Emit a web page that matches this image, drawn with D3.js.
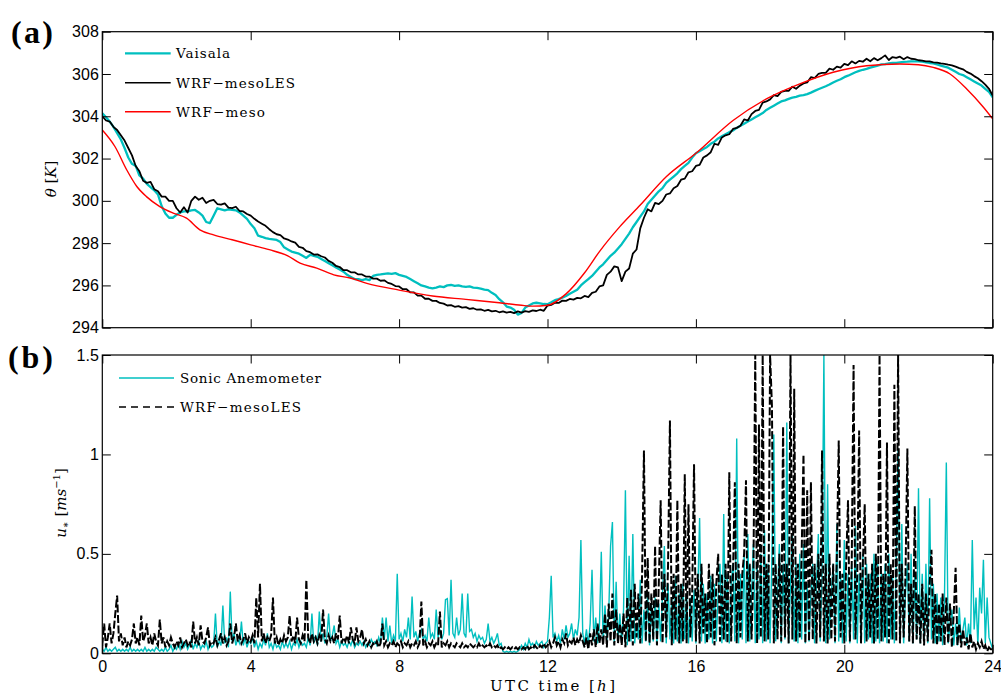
<!DOCTYPE html>
<html><head><meta charset="utf-8">
<script src="https://cdn.jsdelivr.net/npm/d3@7"></script>
<style>
html,body{margin:0;padding:0;background:#fff;}
svg{display:block;}
.tick text{font-family:"Liberation Sans",Arial,sans-serif;font-size:16px;fill:#000;}
.ser{font-family:"DejaVu Serif","Liberation Serif",serif;fill:#000;}
</style></head>
<body>
<svg id="c" width="1001" height="696"></svg>
<script>
// ---------- data ----------
const xTicks = [0, 4, 8, 12, 16, 20, 24];
const thetaTicks = [294, 296, 298, 300, 302, 304, 306, 308];
const ustarTicks = [0, 0.5, 1, 1.5];
const ustarTickLabels = ["0", "0.5", "1", "1.5"];

// Vaisala potential temperature, every 0.1 h (0 .. 24 h)
const thetaVaisala = [
304.14,303.95,303.75,303.5,303.2,302.9,302.5,302.05,301.75,301.65,
301.2,301.05,300.8,300.65,300.5,300.3,299.75,299.4,299.2,299.2,
299.34,299.45,299.5,299.5,299.55,299.57,299.45,299.3,299.0,298.95,
299.3,299.65,299.6,299.55,299.6,299.57,299.55,299.45,299.3,299.15,
298.9,298.7,298.35,298.3,298.24,298.2,298.18,298.15,298.05,297.8,
297.7,297.6,297.55,297.5,297.4,297.3,297.45,297.4,297.35,297.25,
297.15,297.05,296.95,296.85,296.75,296.65,296.5,296.4,296.3,296.3,
296.25,296.3,296.25,296.45,296.5,296.52,296.55,296.57,296.55,296.58,
296.5,296.45,296.4,296.3,296.2,296.1,296.0,295.95,295.9,295.86,
295.9,295.95,295.92,296.0,296.02,295.98,296.0,295.95,295.93,295.95,
295.9,295.88,295.85,295.8,295.78,295.65,295.55,295.35,295.2,295.0,
294.95,294.85,294.62,294.7,294.95,295.05,295.15,295.18,295.15,295.12,
295.11,295.2,295.3,295.35,295.42,295.5,295.6,295.7,295.8,296.0,
296.15,296.3,296.45,296.65,296.85,297.0,297.2,297.4,297.55,297.75,
297.95,298.2,298.45,298.75,299.0,299.25,299.5,299.85,300.05,300.25,
300.45,300.6,300.85,301.0,301.15,301.3,301.5,301.65,301.8,302.05,
302.25,302.35,302.45,302.55,302.7,302.8,302.95,303.05,303.15,303.25,
303.33,303.45,303.55,303.65,303.75,303.85,303.95,304.05,304.15,304.3,
304.4,304.5,304.6,304.7,304.75,304.82,304.88,304.92,304.98,305.0,
305.05,305.12,305.2,305.28,305.35,305.42,305.5,305.6,305.68,305.75,
305.85,305.92,306.0,306.08,306.15,306.2,306.24,306.3,306.35,306.4,
306.45,306.47,306.5,306.52,306.53,306.55,306.57,306.58,306.6,306.6,
306.6,306.58,306.55,306.52,306.5,306.45,306.4,306.35,306.3,306.2,
306.1,306.0,305.95,305.85,305.75,305.65,305.55,305.45,305.3,305.15,
304.9];

// WRF-mesoLES potential temperature, every 0.1 h
const thetaMesoLES = [
304.0,303.8,303.75,303.5,303.35,303.1,302.85,302.5,302.15,301.65,
301.4,300.95,300.85,300.9,300.55,300.45,300.2,300.2,300.0,300.0,
299.65,299.45,299.7,299.45,300.0,300.2,300.05,300.15,299.9,300.0,
300.05,299.85,299.82,299.88,299.68,299.66,299.72,299.52,299.5,299.38,
299.3,299.15,299.02,298.92,298.82,298.66,298.52,298.42,298.38,298.22,
298.17,298.08,298.02,297.82,297.78,297.62,297.57,297.46,297.47,297.38,
297.32,297.16,297.07,296.92,296.87,296.72,296.72,296.62,296.62,296.52,
296.52,296.42,296.42,296.32,296.32,296.22,296.24,296.12,296.07,295.97,
295.95,295.82,295.82,295.67,295.67,295.52,295.52,295.37,295.37,295.27,
295.27,295.17,295.14,295.05,295.07,294.99,295.02,294.95,294.97,294.89,
294.92,294.85,294.87,294.8,294.84,294.77,294.8,294.73,294.77,294.71,
294.75,294.69,294.77,294.71,294.78,294.75,294.82,294.79,294.85,294.8,
295.05,295.08,295.18,295.17,295.28,295.27,295.36,295.33,295.41,295.39,
295.5,295.45,295.65,295.7,295.95,296.0,296.5,296.65,296.9,296.85,
296.2,296.65,296.8,297.5,297.7,298.7,299.2,299.6,299.5,299.9,
299.85,300.0,300.3,300.35,300.6,300.7,301.0,301.05,301.35,301.4,
301.65,301.7,302.05,302.15,302.3,302.7,302.65,303.0,303.1,303.15,
303.4,303.45,303.55,303.85,303.8,304.1,304.25,304.3,304.65,304.7,
304.8,305.0,304.95,305.15,305.2,305.2,305.4,305.3,305.45,305.55,
305.6,305.85,305.8,306.0,306.05,306.05,306.25,306.2,306.35,306.3,
306.48,306.42,306.6,306.5,306.62,306.58,306.72,306.6,306.75,306.65,
306.75,306.88,306.66,306.8,306.76,306.82,306.7,306.8,306.72,306.7,
306.65,306.63,306.6,306.6,306.55,306.54,306.5,306.48,306.44,306.41,
306.35,306.28,306.22,306.1,306.02,305.9,305.8,305.66,305.5,305.3,
304.98];

// WRF-meso (smooth) potential temperature
const mesoHours = [0,0.34,0.66,0.93,1.19,1.55,1.91,2.27,2.63,3.0,3.5,4.0,4.5,5.0,5.33,5.78,6.24,6.68,7.13,8.0,8.9,9.8,10.7,11.3,11.6,12.0,12.5,13.0,13.4,13.95,14.5,15.2,16.0,17.0,17.9,18.8,19.7,20.6,21.5,22.0,22.4,22.85,23.3,23.75,24.0];
const thetaMeso = [303.35,302.57,301.46,300.68,300.2,299.73,299.42,299.18,298.63,298.39,298.16,297.92,297.69,297.4,297.05,296.82,296.5,296.35,296.1,295.78,295.5,295.34,295.18,295.06,295.02,295.06,295.6,296.6,297.6,298.78,299.8,301.14,302.25,303.8,304.82,305.53,306.08,306.39,306.47,306.44,306.31,306.0,305.29,304.43,303.88];

// friction velocity, every 0.05 h
const ustarSonic = [
0.02,0.01,0.03,0.01,0.02,0.01,0.02,0.03,0.01,0.02,0.01,0.02,0.01,0.02,0.01,0.03,0.01,0.02,0.01,0.02,
0.01,0.02,0.01,0.03,0.01,0.02,0.01,0.02,0.01,0.03,0.02,0.01,0.02,0.01,0.03,0.01,0.02,0.04,0.01,0.03,
0.02,0.05,0.02,0.06,0.03,0.05,0.02,0.04,0.07,0.02,0.05,0.03,0.06,0.02,0.04,0.03,0.06,0.02,0.05,0.03,
0.04,0.2,0.03,0.06,0.04,0.24,0.05,0.08,0.03,0.31,0.06,0.1,0.04,0.07,0.05,0.16,0.04,0.08,0.03,0.06,
0.05,0.08,0.03,0.06,0.02,0.05,0.03,0.07,0.04,0.1,0.03,0.05,0.02,0.06,0.03,0.04,0.02,0.06,0.03,0.05,
0.03,0.06,0.02,0.05,0.04,0.07,0.03,0.06,0.04,0.05,0.03,0.08,0.04,0.2,0.05,0.09,0.04,0.21,0.06,0.1,
0.05,0.08,0.2,0.06,0.09,0.14,0.05,0.07,0.03,0.06,0.04,0.05,0.03,0.06,0.04,0.07,0.03,0.05,0.04,0.06,
0.04,0.06,0.03,0.05,0.04,0.07,0.05,0.06,0.04,0.08,0.05,0.18,0.07,0.18,0.06,0.14,0.05,0.09,0.06,0.4,
0.07,0.1,0.06,0.12,0.08,0.18,0.07,0.285,0.08,0.11,0.06,0.1,0.12,0.07,0.09,0.06,0.18,0.08,0.1,0.07,
0.22,0.08,0.12,0.07,0.1,0.27,0.275,0.09,0.37,0.1,0.08,0.18,0.09,0.12,0.3,0.1,0.08,0.3,0.11,0.12,
0.08,0.1,0.06,0.09,0.07,0.08,0.05,0.07,0.15,0.06,0.08,0.05,0.07,0.1,0.04,0.05,0.01,0.005,0.01,0.005,
0.01,0.005,0.01,0.005,0.01,0.02,0.04,0.02,0.05,0.03,0.07,0.04,0.05,0.03,0.06,0.04,0.05,0.06,0.03,0.05,
0.06,0.18,0.39,0.08,0.1,0.06,0.09,0.05,0.12,0.07,0.14,0.08,0.1,0.15,0.07,0.12,0.09,0.18,0.57,0.1,
0.05,0.12,0.04,0.15,0.42,0.06,0.18,0.05,0.14,0.51,0.05,0.24,0.06,0.2,0.54,0.66,0.05,0.36,0.06,0.2,
0.05,0.22,0.82,0.04,0.49,0.06,0.6,0.05,0.15,0.07,0.37,0.05,0.22,0.06,0.3,0.04,0.25,0.06,0.28,0.05,
0.25,0.06,0.3,0.54,0.05,0.35,0.07,0.28,0.05,0.39,0.06,0.3,0.05,0.35,0.07,0.3,0.05,0.28,0.06,0.32,
0.05,0.3,0.68,0.06,0.35,0.05,0.3,0.07,0.39,0.05,0.35,0.06,0.3,0.45,0.05,0.7,0.06,0.4,0.05,0.35,
0.45,0.06,1.08,0.05,0.4,0.07,0.5,0.05,0.6,0.06,0.3,0.55,0.05,0.45,0.07,0.5,0.05,0.62,0.06,0.45,
0.05,0.5,1.1,0.06,0.3,0.55,0.05,0.45,0.07,1.16,0.05,0.35,0.6,0.06,0.45,0.05,0.5,0.07,0.55,0.05,
0.35,0.06,0.3,0.45,0.05,0.35,0.6,0.06,0.4,1.5,0.05,0.85,0.07,0.3,0.45,0.05,0.65,0.06,0.4,0.05,
0.57,0.06,0.4,0.05,0.45,0.07,0.64,0.05,0.4,0.06,0.5,0.05,0.45,0.07,0.4,0.05,0.5,0.06,0.45,0.05,
0.4,0.06,0.45,0.05,0.5,0.07,0.4,0.05,0.45,1.03,0.06,0.65,0.05,0.3,0.45,0.06,0.5,0.05,0.4,0.07,
0.83,0.05,0.4,0.06,0.45,0.05,0.78,0.07,0.35,0.05,0.3,0.06,0.28,0.04,0.28,0.96,0.05,0.15,0.22,0.04,
0.15,0.04,0.23,0.05,0.12,0.18,0.04,0.15,0.05,0.57,0.12,0.28,0.04,0.33,0.2,0.47,0.05,0.28,0.08,0.05,
0.02];

const ustarMesoLES = [
0.04,0.15,0.03,0.08,0.15,0.05,0.1,0.2,0.29,0.06,0.1,0.04,0.08,0.03,0.06,0.04,0.07,0.15,0.05,0.08,
0.04,0.19,0.06,0.09,0.15,0.05,0.08,0.04,0.1,0.06,0.04,0.17,0.05,0.08,0.03,0.06,0.04,0.08,0.05,0.03,
0.06,0.04,0.08,0.03,0.05,0.07,0.04,0.06,0.03,0.16,0.05,0.08,0.04,0.14,0.06,0.05,0.08,0.13,0.04,0.06,
0.05,0.08,0.04,0.07,0.1,0.05,0.08,0.04,0.06,0.15,0.05,0.08,0.15,0.06,0.09,0.05,0.07,0.1,0.05,0.08,
0.06,0.09,0.05,0.28,0.08,0.35,0.06,0.1,0.05,0.08,0.06,0.09,0.28,0.05,0.08,0.04,0.07,0.05,0.09,0.06,
0.08,0.19,0.06,0.09,0.05,0.18,0.07,0.05,0.09,0.06,0.37,0.08,0.05,0.1,0.06,0.08,0.05,0.09,0.06,0.22,
0.07,0.05,0.09,0.06,0.08,0.05,0.1,0.07,0.19,0.05,0.08,0.06,0.09,0.05,0.13,0.07,0.05,0.13,0.06,0.08,
0.12,0.05,0.07,0.04,0.06,0.03,0.05,0.04,0.06,0.03,0.05,0.15,0.04,0.06,0.03,0.05,0.04,0.06,0.03,0.05,
0.04,0.06,0.03,0.05,0.04,0.06,0.03,0.05,0.04,0.06,0.03,0.05,0.26,0.04,0.06,0.03,0.05,0.04,0.06,0.03,
0.05,0.04,0.21,0.03,0.05,0.04,0.06,0.03,0.05,0.04,0.03,0.05,0.04,0.03,0.05,0.03,0.04,0.03,0.05,0.04,
0.03,0.04,0.03,0.05,0.03,0.04,0.03,0.04,0.03,0.05,0.03,0.04,0.03,0.04,0.02,0.03,0.02,0.03,0.02,0.03,
0.02,0.03,0.02,0.03,0.02,0.03,0.02,0.03,0.02,0.04,0.02,0.03,0.02,0.04,0.03,0.02,0.04,0.03,0.05,0.03,
0.04,0.06,0.03,0.05,0.08,0.04,0.06,0.03,0.07,0.05,0.1,0.04,0.06,0.05,0.08,0.04,0.07,0.05,0.09,0.06,
0.03,0.08,0.02,0.1,0.04,0.12,0.03,0.15,0.05,0.12,0.04,0.2,0.03,0.25,0.06,0.3,0.04,0.22,0.05,0.15,
0.04,0.2,0.03,0.28,0.06,0.32,0.04,0.35,0.08,0.3,0.05,0.4,1.02,0.06,0.48,0.05,0.3,0.07,0.54,0.04,
0.35,0.77,0.05,0.4,0.08,0.45,1.17,0.04,0.4,0.07,0.77,0.05,0.35,0.06,0.9,0.05,0.75,0.08,0.3,0.95,
0.06,0.4,0.05,0.45,0.1,0.3,0.05,0.45,0.08,0.4,0.04,0.35,0.5,0.06,0.4,0.07,0.45,0.05,0.91,0.06,
0.4,0.86,0.05,0.45,0.08,0.4,0.5,0.87,0.06,0.45,0.07,0.4,1.5,0.05,1.15,0.08,1.5,0.06,0.45,0.07,
1.5,1.24,0.05,0.45,0.07,0.5,0.06,1.14,0.08,0.45,0.05,1.5,0.07,1.33,0.06,0.45,0.08,0.5,1.0,0.05,
0.82,0.06,0.86,0.07,0.45,0.05,0.5,0.08,1.02,0.06,0.45,0.05,0.5,0.07,0.45,0.06,0.5,1.07,0.08,0.4,
0.05,0.45,0.77,0.06,0.45,1.45,0.07,0.4,1.12,0.05,0.45,0.75,0.06,0.4,0.08,0.45,0.05,0.5,0.07,1.5,
0.06,0.4,0.08,1.06,0.05,0.45,0.07,1.35,0.06,1.5,0.05,0.45,0.08,0.4,1.03,0.06,0.35,0.05,0.74,0.07,
0.3,0.05,0.35,0.04,0.3,0.06,0.35,0.52,0.05,0.3,0.04,0.25,0.06,0.3,0.04,0.28,0.05,0.25,0.03,0.2,
0.43,0.04,0.15,0.03,0.12,0.04,0.08,0.02,0.1,0.03,0.06,0.02,0.05,0.03,0.06,0.02,0.04,0.01,0.03,0.02,
0.02];

const legendTop = ["Vaisala", "WRF\u2212mesoLES", "WRF\u2212meso"];
const legendBottom = ["Sonic Anemometer", "WRF\u2212mesoLES"];

// ---------- drawing ----------
const CYAN = "#00bfbf", RED = "#ff0000", BLACK = "#000000";
const svg = d3.select("#c");
const L = 102.3, R = 992.7;
const topP = {t: 31.7, b: 327.7}, botP = {t: 355, b: 653.3};

const x = d3.scaleLinear().domain([0, 24]).range([L, R]);
const yT = d3.scaleLinear().domain([294, 308]).range([topP.b, topP.t]);
const yB = d3.scaleLinear().domain([0, 1.5]).range([botP.b, botP.t]);

const defs = svg.append("defs");
[["clipTop", topP], ["clipBot", botP]].forEach(([id, p]) => {
  defs.append("clipPath").attr("id", id).append("rect")
    .attr("x", L).attr("y", p.t - 1).attr("width", R - L).attr("height", p.b - p.t + 1);
});

function series(arr) {
  const step = 24 / (arr.length - 1);
  return arr.map((v, i) => [i * step, v]);
}

const TL = 8.5;
function axes(y, p, ticks, fmt, showX) {
  const g = svg.append("g");
  g.append("g").attr("transform", `translate(${L},0)`)
    .call(d3.axisLeft(y).tickValues(ticks).tickFormat(fmt).tickSizeInner(-TL).tickSizeOuter(0).tickPadding(3.5));
  g.append("g").attr("transform", `translate(${R},0)`)
    .call(d3.axisRight(y).tickValues(ticks).tickFormat("").tickSizeInner(-TL).tickSizeOuter(0));
  g.append("g").attr("transform", `translate(0,${p.b})`)
    .call(d3.axisBottom(x).tickValues(xTicks).tickFormat(showX ? d3.format("d") : "").tickSizeInner(-TL).tickSizeOuter(0).tickPadding(7));
  g.append("g").attr("transform", `translate(0,${p.t})`)
    .call(d3.axisTop(x).tickValues(xTicks).tickFormat("").tickSizeInner(-TL).tickSizeOuter(0));
  g.selectAll(".domain").remove();
  g.selectAll(".tick line").attr("stroke", "#000").attr("stroke-width", 1);
  svg.append("rect").attr("x", L).attr("y", p.t).attr("width", R - L).attr("height", p.b - p.t)
    .attr("fill", "none").attr("stroke", "#000").attr("stroke-width", 1.2);
}

// top panel lines
const lineT = d3.line().x(d => x(d[0])).y(d => yT(d[1]));
const gT = svg.append("g").attr("clip-path", "url(#clipTop)");
gT.append("path").datum(series(thetaVaisala)).attr("d", lineT)
  .attr("fill", "none").attr("stroke", CYAN).attr("stroke-width", 2.3).attr("stroke-linejoin", "round");
gT.append("path").datum(series(thetaMesoLES)).attr("d", lineT)
  .attr("fill", "none").attr("stroke", BLACK).attr("stroke-width", 1.8).attr("stroke-linejoin", "round");
gT.append("path").datum(mesoHours.map((h, i) => [h, thetaMeso[i]]))
  .attr("d", d3.line().x(d => x(d[0])).y(d => yT(d[1])).curve(d3.curveMonotoneX))
  .attr("fill", "none").attr("stroke", RED).attr("stroke-width", 1.4);

// bottom panel lines
const lineB = d3.line().x(d => x(d[0])).y(d => yB(d[1]));
const gB = svg.append("g").attr("clip-path", "url(#clipBot)");
gB.append("path").datum(series(ustarSonic)).attr("d", lineB)
  .attr("fill", "none").attr("stroke", CYAN).attr("stroke-width", 1.4);
gB.append("path").datum(series(ustarMesoLES)).attr("d", lineB)
  .attr("fill", "none").attr("stroke", BLACK).attr("stroke-width", 2).attr("stroke-dasharray", "8,2.5");

axes(yT, topP, thetaTicks, d3.format("d"), false);
axes(yB, botP, ustarTicks, (d, i) => ustarTickLabels[i], true);

// legends
const legTop = [{c: CYAN, w: 2.3, dash: null, y: 53.3, len: 54},
                {c: BLACK, w: 1.5, dash: null, y: 82.7, len: 119},
                {c: RED, w: 1.4, dash: null, y: 111.7, len: 89}];
legTop.forEach((s, i) => {
  svg.append("line").attr("x1", 125).attr("x2", 170.7).attr("y1", s.y).attr("y2", s.y)
    .attr("stroke", s.c).attr("stroke-width", s.w);
  svg.append("text").attr("class", "ser").attr("x", 176).attr("y", s.y + 5)
    .attr("font-size", 13.5).attr("textLength", s.len).attr("lengthAdjust", "spacing")
    .text(legendTop[i]);
});
const legBot = [{c: CYAN, w: 1.6, dash: null, y: 378, len: 141},
                {c: BLACK, w: 1.6, dash: "7,5", y: 407, len: 121}];
legBot.forEach((s, i) => {
  svg.append("line").attr("x1", 119).attr("x2", 174).attr("y1", s.y).attr("y2", s.y)
    .attr("stroke", s.c).attr("stroke-width", s.w).attr("stroke-dasharray", s.dash);
  svg.append("text").attr("class", "ser").attr("x", 180).attr("y", s.y + 5)
    .attr("font-size", 13.5).attr("textLength", s.len).attr("lengthAdjust", "spacing")
    .text(legendBottom[i]);
});

// panel labels
svg.append("text").attr("x", 11).attr("y", 42.5).attr("font-family", "Liberation Serif, Times New Roman, serif")
  .attr("font-weight", "bold").attr("font-size", 32).attr("textLength", 42).text("(a)");
svg.append("text").attr("x", 8).attr("y", 368).attr("font-family", "Liberation Serif, Times New Roman, serif")
  .attr("font-weight", "bold").attr("font-size", 32).attr("textLength", 45).text("(b)");

// axis titles
const yl1 = svg.append("text").attr("class", "ser").attr("font-size", 15)
  .attr("text-anchor", "middle").attr("transform", "translate(56,179) rotate(-90)");
yl1.append("tspan").attr("font-style", "italic").text("\u03b8");
yl1.append("tspan").text(" [");
yl1.append("tspan").attr("font-style", "italic").text("K");
yl1.append("tspan").text("]");

const yl2 = svg.append("text").attr("class", "ser").attr("font-size", 15)
  .attr("text-anchor", "middle").attr("transform", "translate(66,503) rotate(-90)");
yl2.append("tspan").attr("font-style", "italic").text("u");
yl2.append("tspan").attr("font-size", 10).attr("dy", 3).text("\u2217");
yl2.append("tspan").attr("dy", -3).text(" [");
yl2.append("tspan").attr("font-style", "italic").text("ms");
yl2.append("tspan").attr("font-size", 10).attr("dy", -6).text("\u22121");
yl2.append("tspan").attr("dy", 6).text("]");

const xl = svg.append("text").attr("class", "ser").attr("font-size", 15)
  .attr("text-anchor", "middle").attr("x", 552.5).attr("y", 690.5)
  .attr("textLength", 125).attr("lengthAdjust", "spacing");
xl.append("tspan").text("UTC time [");
xl.append("tspan").attr("font-style", "italic").text("h");
xl.append("tspan").text("]");
</script>
</body></html>
